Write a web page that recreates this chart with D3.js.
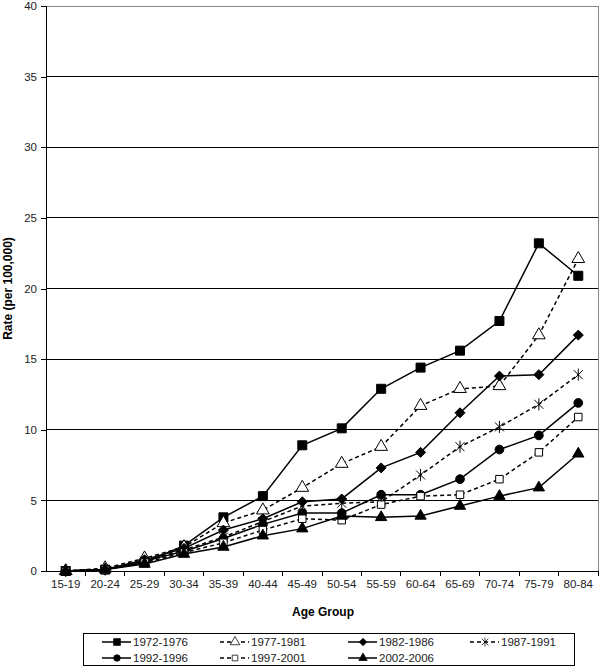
<!DOCTYPE html>
<html>
<head>
<meta charset="utf-8">
<script src="https://cdn.jsdelivr.net/npm/d3@7"></script>
<style>
  body { margin: 0; background: #fff; }
  svg { display: block; font-family: "Liberation Sans", Arial, sans-serif; }
</style>
</head>
<body>
<svg id="chart" width="600" height="668"></svg>
<script>
// Age-group incidence rates by period
const ageGroups = ['15-19', '20-24', '25-29', '30-34', '35-39', '40-44', '45-49',
    '50-54', '55-59', '60-64', '65-69', '70-74', '75-79', '80-84'];

const yTicks = [0, 5, 10, 15, 20, 25, 30, 35, 40];

const rates1972 = [0, 0.1, 0.6, 1.8, 3.8, 5.3, 8.9, 10.1, 12.9, 14.4, 15.6, 17.7, 23.2, 20.9];
const rates1977 = [0, 0.2, 0.9, 1.7, 3.4, 4.3, 5.9, 7.6, 8.8, 11.7, 12.9, 13.1, 16.7, 22.1];
const rates1982 = [0, 0.1, 0.8, 1.6, 2.9, 3.7, 4.9, 5.1, 7.3, 8.4, 11.2, 13.8, 13.9, 16.7];
const rates1987 = [0, 0.1, 0.7, 1.5, 2.4, 3.5, 4.6, 4.8, 4.9, 6.8, 8.8, 10.2, 11.8, 13.9];
const rates1992 = [0, 0.1, 0.7, 1.4, 2.3, 3.3, 4.1, 4.1, 5.4, 5.4, 6.5, 8.6, 9.6, 11.9];
const rates1997 = [0, 0.1, 0.6, 1.3, 2.0, 2.9, 3.7, 3.6, 4.7, 5.3, 5.4, 6.5, 8.4, 10.9];
const rates2002 = [0, 0.1, 0.5, 1.2, 1.7, 2.5, 3.0, 3.9, 3.8, 3.9, 4.6, 5.3, 5.9, 8.3];

const periods = ['1972-1976', '1977-1981', '1982-1986', '1987-1991',
    '1992-1996', '1997-2001', '2002-2006'];

// marker style per series
const seriesStyle = [
    { values: rates1972, marker: 'square', fill: '#000', dashed: false },
    { values: rates1977, marker: 'triangle', fill: '#fff', dashed: true },
    { values: rates1982, marker: 'diamond', fill: '#000', dashed: false },
    { values: rates1987, marker: 'asterisk', fill: 'none', dashed: true },
    { values: rates1992, marker: 'circle', fill: '#000', dashed: false },
    { values: rates1997, marker: 'square', fill: '#fff', dashed: true, small: true },
    { values: rates2002, marker: 'triangle', fill: '#000', dashed: false, small: true },
];

const series = periods.map((p, i) => Object.assign({ name: p }, seriesStyle[i]));

const margin = { top: 6, right: 2, bottom: 97, left: 46 };
const width = 600;
const height = 668;

const svg = d3.select('#chart');

const x = d3.scaleBand()
    .domain(ageGroups)
    .range([margin.left, width - margin.right]);

const y = d3.scaleLinear()
    .domain([0, 40])
    .range([height - margin.bottom, margin.top]);

const cx = d => x(d) + x.bandwidth() / 2;

// gridlines
svg.append('g')
    .selectAll('line')
    .data(yTicks.filter(t => t > 0 && t < 40))
    .enter().append('line')
    .attr('x1', margin.left)
    .attr('x2', width - margin.right)
    .attr('y1', d => y(d))
    .attr('y2', d => y(d))
    .attr('stroke', '#000')
    .attr('stroke-width', 1)
    .attr('shape-rendering', 'crispEdges');

// top and right border
svg.append('path')
    .attr('d', `M${margin.left},${y(40)}H${width - margin.right}V${y(0)}`)
    .attr('fill', 'none')
    .attr('stroke', '#888')
    .attr('shape-rendering', 'crispEdges');

// y axis
const yAxis = svg.append('g')
    .attr('transform', `translate(${margin.left},0)`)
    .call(d3.axisLeft(y).tickValues(yTicks).tickSize(5).tickPadding(4));
yAxis.select('.domain').attr('stroke', '#000').attr('shape-rendering', 'crispEdges');
yAxis.selectAll('.tick line').attr('shape-rendering', 'crispEdges');
yAxis.selectAll('text')
    .style('font-size', '11.5px')
    .attr('fill', '#222');

// x axis, ticks between categories
const xAxisG = svg.append('g')
    .attr('transform', `translate(0,${y(0)})`);
xAxisG.append('line')
    .attr('x1', margin.left - 5)
    .attr('x2', width - margin.right)
    .attr('stroke', '#000')
    .attr('shape-rendering', 'crispEdges');
xAxisG.selectAll('.xtick')
    .data(ageGroups)
    .enter().append('line')
    .attr('class', 'xtick')
    .attr('x1', d => x(d) + x.bandwidth())
    .attr('x2', d => x(d) + x.bandwidth())
    .attr('y1', 0)
    .attr('y2', 5)
    .attr('stroke', '#000')
    .attr('shape-rendering', 'crispEdges');
xAxisG.selectAll('.xlabel')
    .data(ageGroups)
    .enter().append('text')
    .attr('class', 'xlabel')
    .attr('x', d => cx(d))
    .attr('y', 17)
    .attr('text-anchor', 'middle')
    .style('font-size', '11.5px')
    .attr('fill', '#222')
    .text(d => d);

// axis titles
svg.append('text')
    .attr('x', 323)
    .attr('y', 616)
    .attr('text-anchor', 'middle')
    .style('font-size', '12px')
    .style('font-weight', 'bold')
    .text('Age Group');

svg.append('text')
    .attr('transform', `translate(12,${(y(0) + y(40)) / 2}) rotate(-90)`)
    .attr('text-anchor', 'middle')
    .style('font-size', '12px')
    .style('font-weight', 'bold')
    .text('Rate (per 100,000)');

function asteriskPath(r) {
    const a = r * 0.75;
    return `M${-a},${-a}L${a},${a}M${-a},${a}L${a},${-a}M0,${-r}L0,${r}`;
}

function diamondPath(r) {
    return `M0,${-r}L${r},0L0,${r}L${-r},0Z`;
}

function markerPath(s) {
    if (s.marker === 'square') return d3.symbol(d3.symbolSquare, s.small ? 56 : 81)();
    if (s.marker === 'triangle') return d3.symbol(d3.symbolTriangle, s.small ? 55 : 70)();
    if (s.marker === 'diamond') return diamondPath(5);
    if (s.marker === 'circle') return d3.symbol(d3.symbolCircle, 60)();
    return asteriskPath(6);
}

function drawMarker(g, s) {
    g.append('path')
        .attr('d', markerPath(s))
        .attr('fill', s.fill)
        .attr('stroke', '#000')
        .attr('stroke-width', 1);
}

const line = d3.line()
    .x((d, i) => cx(ageGroups[i]))
    .y(d => y(d));

// series lines and markers
const seriesG = svg.append('g')
    .selectAll('g')
    .data(series)
    .enter().append('g');

seriesG.append('path')
    .attr('d', d => line(d.values))
    .attr('fill', 'none')
    .attr('stroke', '#000')
    .attr('stroke-width', 1.5)
    .attr('stroke-dasharray', d => (d.dashed ? '4,3' : null));

seriesG.each(function (s) {
    d3.select(this).selectAll('.pt')
        .data(s.values)
        .enter().append('g')
        .attr('class', 'pt')
        .attr('transform', (v, i) => `translate(${cx(ageGroups[i])},${y(v)})`)
        .each(function () { drawMarker(d3.select(this), s); });
});

// legend
const legend = svg.append('g');
legend.append('rect')
    .attr('x', 83.5)
    .attr('y', 633.5)
    .attr('width', 491)
    .attr('height', 32)
    .attr('fill', '#fff')
    .attr('stroke', '#000');

const legendCols = [102, 220, 348, 470];

const legendItems = legend.selectAll('.item')
    .data(series)
    .enter().append('g')
    .attr('class', 'item')
    .attr('transform', (d, i) => `translate(${legendCols[i % 4]},${i < 4 ? 642 : 658})`);

legendItems.append('line')
    .attr('x1', 0)
    .attr('x2', 29)
    .attr('stroke', '#000')
    .attr('stroke-width', 1.5)
    .attr('stroke-dasharray', d => (d.dashed ? '4,3' : null));

legendItems.each(function (s) {
    const g = d3.select(this).append('g')
        .attr('transform', 'translate(15,0) scale(0.75)');
    drawMarker(g, s);
});

legendItems.append('text')
    .attr('x', 31)
    .attr('y', 4)
    .style('font-size', '11.5px')
    .attr('fill', '#222')
    .text(d => d.name);
</script>
</body>
</html>
